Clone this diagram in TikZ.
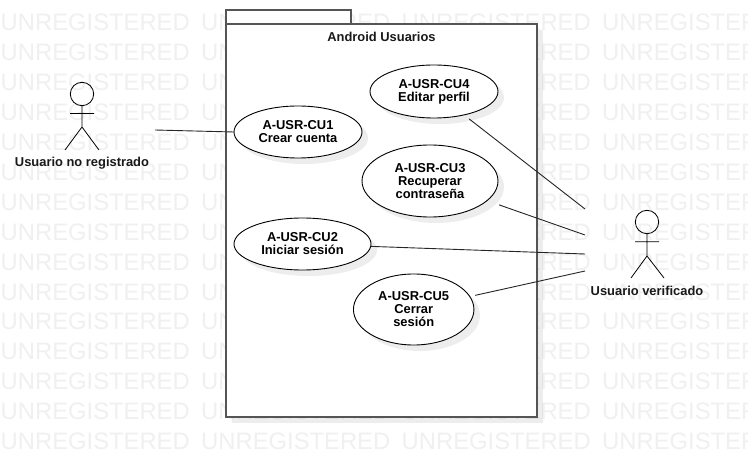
\documentclass[tikz,border=0pt]{standalone}
\usepackage{fontspec}
\setmainfont{Liberation Sans}
\usetikzlibrary{shapes.geometric,shadows}
\definecolor{wm}{HTML}{F0F0F0}
\definecolor{frame}{HTML}{555555}
\tikzset{
  x=1pt,y=-1pt,
  boxshadow/.style={general shadow={fill=black,opacity=.07,shadow xshift=6pt,shadow yshift=-6pt}},
  usecase/.style={ellipse,draw=black,line width=.9pt,fill=white,inner sep=0pt,outer sep=0pt,align=center,
    font=\bfseries\fontsize{12.9}{13}\selectfont,boxshadow,execute at begin node={\rule{0pt}{11.3pt}}},
  lbl/.style={font=\bfseries\fontsize{12.9}{13}\selectfont,inner sep=0pt,text=black!90},
  wmark/.style={anchor=west,inner sep=0pt,text=wm,font=\fontsize{23.8}{24}\selectfont},
  conn/.style={draw=black!85,line width=.9pt},
  stick/.style={draw=black,line width=.8pt},
  pkg/.style={draw=frame,line width=1.2pt,fill=white},
}
\begin{document}
\begin{tikzpicture}
\useasboundingbox (0,0) rectangle (748,457);
\fill[white] (0,0) rectangle (748,457);
% watermark
\begin{scope}
\clip (0,0) rectangle (748,457);
\foreach \r in {0,...,14}{
  \foreach \c in {0,1,2,3}{
    \node[wmark] (w\r c\c) at ({0.5+200.5*\c},{22.5+29.93*\r}) {UNREGISTERED};
  }
}
\end{scope}
% package
\fill[black,opacity=.07] (232,30) rectangle (543,423);
\draw[pkg] (226,24) rectangle (351,10);
\draw[pkg] (226,24) rectangle (537,417);
\node[lbl] (title) at (381.5,37) {Android Usuarios};
% use cases
\node[usecase,minimum width=128pt,minimum height=52pt] (cu1) at (298,132) {A-USR-CU1\\Crear cuenta};
\node[usecase,minimum width=128pt,minimum height=53pt] (cu4) at (434,91.5) {A-USR-CU4\\Editar perfil};
\node[usecase,minimum width=136pt,minimum height=72pt] (cu3) at (430,181) {A-USR-CU3\\Recuperar\\contrase\~na};
\node[usecase,minimum width=137pt,minimum height=52pt] (cu2) at (302.5,244) {A-USR-CU2\\Iniciar sesión};
\node[usecase,minimum width=120.5pt,minimum height=71pt] (cu5) at (413.7,309.5) {A-USR-CU5\\Cerrar\\sesión};
% actors
\draw[stick] (82,94) circle (11.7);
\draw[stick] (70,113.5) -- (94,113.5) (82,105.7) -- (82,127) -- (65,150) (82,127) -- (99,150);
\node[lbl] (a1) at (82,163) {Usuario no registrado};
\draw[stick] (647,222) circle (11.7);
\draw[stick] (635,241.7) -- (659,241.7) (647,233.7) -- (647,256) -- (631,278) (647,256) -- (664,278);
\node[lbl] (a2) at (647,291) {Usuario verificado};
% connector ends
\coordinate (e1) at (155,130);
\coordinate (e4) at (585,209);
\coordinate (e3) at (585,235);
\coordinate (e2) at (585,254);
\coordinate (e5) at (585,271);
\draw[conn] (e1) -- (cu1.180);
\draw[conn,shorten <=6.6pt] (cu4.-38) -- (e4);
\draw[conn,shorten <=12.9pt] (cu3.-19) -- (e3);
\draw[conn] (cu2.-2) -- (e2);
\draw[conn,shorten <=5.5pt] (cu5.13) -- (e5);
\end{tikzpicture}
\end{document}
